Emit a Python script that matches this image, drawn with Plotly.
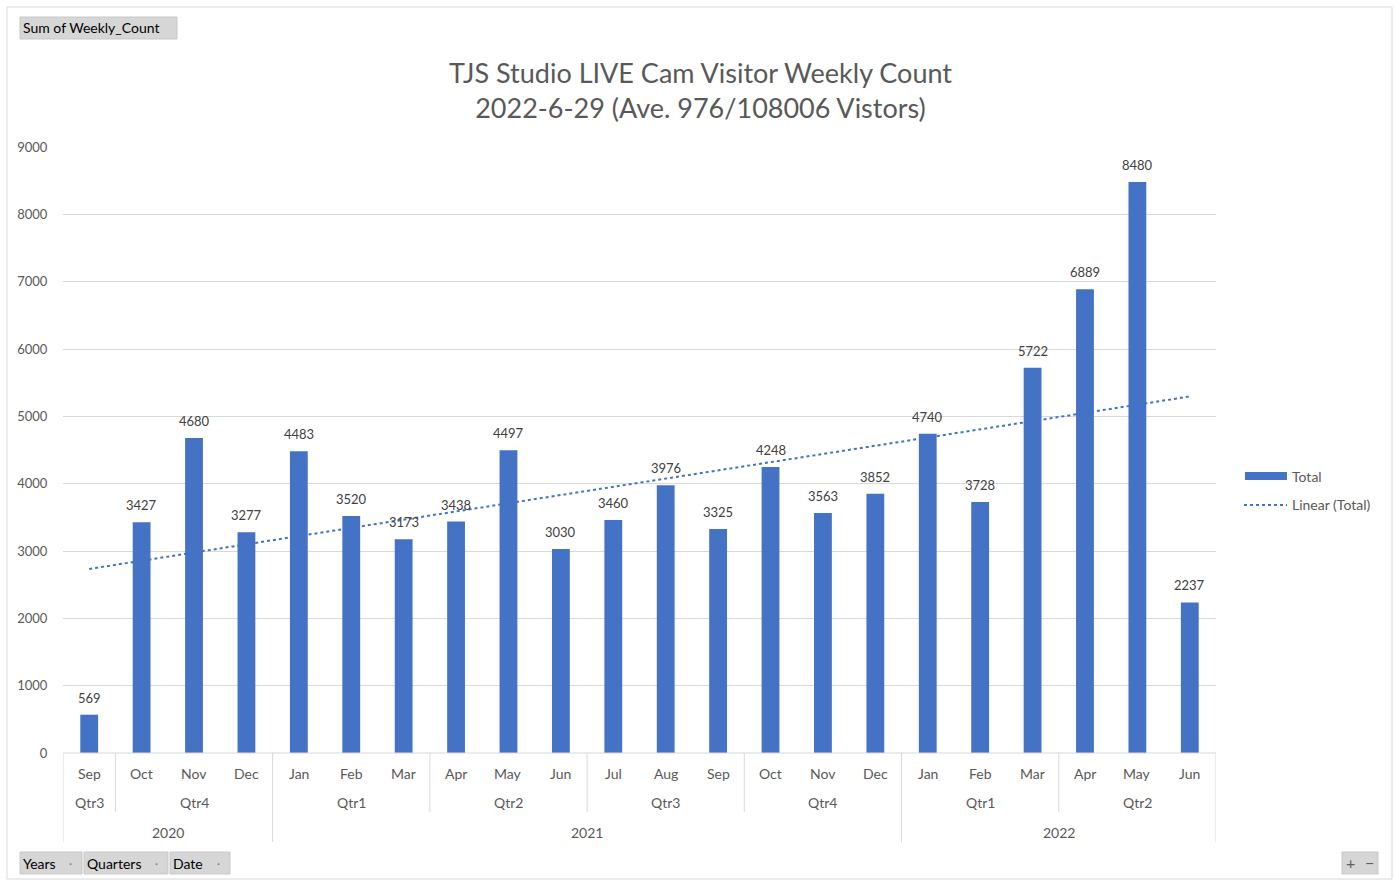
import numpy as np
import plotly.graph_objects as go

months = ["Sep", "Oct", "Nov", "Dec", "Jan", "Feb", "Mar", "Apr", "May", "Jun", "Jul",
          "Aug", "Sep", "Oct", "Nov", "Dec", "Jan", "Feb", "Mar", "Apr", "May", "Jun"]
quarters = ["Qtr3", "Qtr4", "Qtr4", "Qtr4", "Qtr1", "Qtr1", "Qtr1", "Qtr2", "Qtr2", "Qtr2", "Qtr3",
            "Qtr3", "Qtr3", "Qtr4", "Qtr4", "Qtr4", "Qtr1", "Qtr1", "Qtr1", "Qtr2", "Qtr2", "Qtr2"]
years = ["2020"] * 4 + ["2021"] * 12 + ["2022"] * 6
totals = [569, 3427, 4680, 3277, 4483, 3520, 3173, 3438, 4497, 3030, 3460,
          3976, 3325, 4248, 3563, 3852, 4740, 3728, 5722, 6889, 8480, 2237]
y_ticks = [0, 1000, 2000, 3000, 4000, 5000, 6000, 7000, 8000, 9000]

W, H = 1395, 880
L, R, T, B = 63, 1216, 147, 753
PW, PH = R - L, B - T


def px(x):
    return (x - L) / PW


def py(y):
    return (B - y) / PH


FONT = "Lato, Carlito, Open Sans, sans-serif"
GRAY = "#595959"
LINE = "#d9d9d9"
BLUE = "#4472C4"

idx = np.arange(len(totals))
coef = np.polyfit(idx, totals, 1)
trend = np.polyval(coef, idx)

fig = go.Figure()
fig.add_trace(go.Bar(
    x=idx, y=totals, width=0.34, marker=dict(color=BLUE, line=dict(width=0)),
    name="Total", showlegend=False,
))
fig.add_trace(go.Scatter(
    x=idx, y=trend, mode="lines", line=dict(color=BLUE, width=2, dash="dot"),
    name="Linear (Total)", showlegend=False,
))

shapes = []
annotations = []


def ann(x, y, text, size=14, color=GRAY, xref="paper", yref="paper", xanchor="center", **kw):
    annotations.append(dict(x=x, y=y, xref=xref, yref=yref, text=text, showarrow=False,
                            xanchor=xanchor, yanchor="middle",
                            font=dict(family=FONT, size=size, color=color), **kw))


# data labels
for i, v in zip(idx, totals):
    ann(int(i), v, str(v), size=13, color="#404040", xref="x", yref="y", yshift=17)

# outer border
shapes.append(dict(type="rect", xref="paper", yref="paper", x0=px(7), x1=px(1392), y0=py(7), y1=py(879),
                   line=dict(color=LINE, width=1), fillcolor="rgba(0,0,0,0)", layer="below"))
# x axis line
shapes.append(dict(type="line", xref="paper", yref="paper", x0=0, x1=1, y0=0, y1=0,
                   line=dict(color=LINE, width=1)))

y_month, y_q, y_year = py(773), py(802), py(832)
y_q_bot, y_year_bot = py(812), py(842)

for i, m in enumerate(months):
    ann(i, y_month, m, xref="x")


def runs(labels, keyfn):
    out = []
    start = 0
    for i in range(1, len(labels) + 1):
        if i == len(labels) or keyfn(i) != keyfn(start):
            out.append((labels[start], start, i - 1))
            start = i
    return out


qruns = runs(quarters, lambda i: (years[i], quarters[i]))
yruns = runs(years, lambda i: years[i])

for lab, s, e in qruns:
    ann((s + e) / 2, y_q, lab, xref="x")
for lab, s, e in yruns:
    ann((s + e) / 2, y_year, lab, xref="x")

year_bounds = set([-0.5, len(totals) - 0.5] + [s - 0.5 for _, s, _ in yruns])
q_bounds = set(s - 0.5 for _, s, _ in qruns) - year_bounds
for b in year_bounds:
    shapes.append(dict(type="line", xref="x", yref="paper", x0=b, x1=b, y0=0, y1=y_year_bot,
                       line=dict(color=LINE, width=1)))
for b in q_bounds:
    shapes.append(dict(type="line", xref="x", yref="paper", x0=b, x1=b, y0=0, y1=y_q_bot,
                       line=dict(color=LINE, width=1)))

# custom legend
shapes.append(dict(type="rect", xref="paper", yref="paper", x0=px(1245), x1=px(1287), y0=py(480), y1=py(472),
                   line=dict(width=0), fillcolor=BLUE))
shapes.append(dict(type="line", xref="paper", yref="paper", x0=px(1244), x1=px(1287), y0=py(505), y1=py(505),
                   line=dict(color=BLUE, width=2, dash="dot")))
ann(px(1290), py(476), "Total", xanchor="left")
ann(px(1290), py(505), "Linear (Total)", xanchor="left")


def button(x0, x1, y0, y1, text, dot=False):
    shapes.append(dict(type="rect", xref="paper", yref="paper", x0=px(x0), x1=px(x1), y0=py(y1), y1=py(y0),
                       line=dict(color="#c8c8c8", width=1), fillcolor="#d6d6d6"))
    ann(px(x0 + 1), py((y0 + y1) / 2), text, color="#000000", xanchor="left")
    if dot:
        ann(px(x1 - 12), py((y0 + y1) / 2), "·", size=12, color="#808080")


button(20, 177, 17, 39, "Sum of Weekly_Count")
button(20, 82, 852, 874, "Years", True)
button(84, 168, 852, 874, "Quarters", True)
button(170, 230, 852, 874, "Date", True)
shapes.append(dict(type="rect", xref="paper", yref="paper", x0=px(1342), x1=px(1378), y0=py(874), y1=py(852),
                   line=dict(color="#c8c8c8", width=1), fillcolor="#d6d6d6"))
ann(px(1350), py(862), "+", size=16, color="#606060")
ann(px(1369), py(862), "−", size=16, color="#606060")

# title
ann(px(700), py(90), "TJS Studio LIVE Cam Visitor Weekly Count<br>2022-6-29 (Ave. 976/108006 Vistors)",
    size=27, align="center")

fig.update_layout(
    width=W, height=H, margin=dict(l=L, r=W - R, t=T, b=H - B, pad=0),
    paper_bgcolor="white", plot_bgcolor="white",
    shapes=shapes, annotations=annotations, bargap=0.66,
    xaxis=dict(range=[-0.5, len(totals) - 0.5], showticklabels=False, showgrid=False, zeroline=False,
               showline=False, fixedrange=True),
    yaxis=dict(range=[0, 9000], tickvals=y_ticks, showgrid=True, gridcolor=LINE, gridwidth=1,
               zeroline=False, showline=False, ticks="outside", ticklen=12, tickcolor="rgba(0,0,0,0)",
               tickfont=dict(family=FONT, size=13, color=GRAY), fixedrange=True),
    showlegend=False,
)

fig.write_html("out.html", config={"displayModeBar": False},
               post_script="document.body.style.margin='0';document.body.style.overflow='hidden';")
